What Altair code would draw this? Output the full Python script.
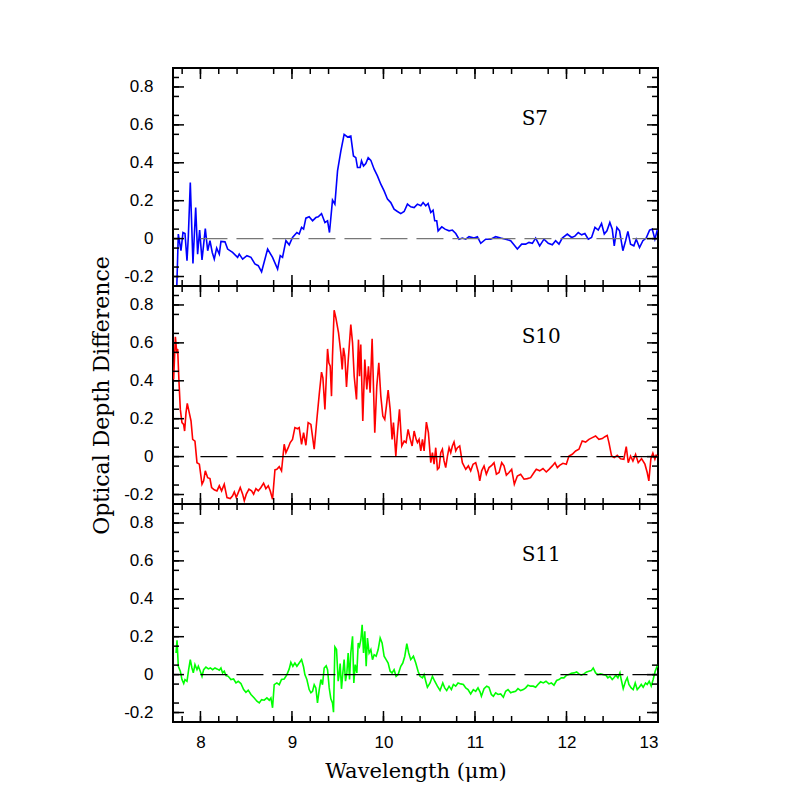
import altair as alt
import pandas as pd

# ---------------- data ----------------
S7_X = [7.740, 7.758, 7.787, 7.809, 7.831, 7.853, 7.867, 7.889, 7.918, 7.948,
        7.969, 7.991, 8.017, 8.053, 8.079, 8.104, 8.129, 8.151, 8.177, 8.206,
        8.224, 8.268, 8.297, 8.351, 8.406, 8.424, 8.461, 8.508, 8.552, 8.595,
        8.632, 8.668, 8.734, 8.788, 8.843, 8.872, 8.897, 8.934, 8.970, 9.006,
        9.054, 9.079, 9.105, 9.127, 9.152, 9.188, 9.225, 9.261, 9.287, 9.323,
        9.360, 9.389, 9.410, 9.443, 9.469, 9.498, 9.534, 9.570, 9.607, 9.643,
        9.672, 9.698, 9.716, 9.745, 9.760, 9.782, 9.807, 9.833, 9.862, 9.898,
        9.934, 9.971, 10.007, 10.044, 10.080, 10.116, 10.153, 10.189, 10.226, 10.262,
        10.298, 10.335, 10.371, 10.408, 10.433, 10.462, 10.488, 10.517, 10.542, 10.560,
        10.582, 10.597, 10.637, 10.673, 10.717, 10.753, 10.790, 10.826, 10.862, 10.899,
        10.935, 10.990, 11.026, 11.063, 11.117, 11.172, 11.226, 11.281, 11.335, 11.390,
        11.426, 11.463, 11.510, 11.554, 11.590, 11.627, 11.663, 11.707, 11.754, 11.801,
        11.845, 11.881, 11.918, 11.954, 12.009, 12.056, 12.092, 12.129, 12.165, 12.201,
        12.238, 12.274, 12.311, 12.347, 12.383, 12.413, 12.442, 12.474, 12.500, 12.522,
        12.551, 12.580, 12.616, 12.646, 12.671, 12.700, 12.736, 12.762, 12.798, 12.835,
        12.871, 12.908, 12.937, 12.966, 12.995]
S7_Y = [-0.280, 0.024, -0.064, 0.032, 0.027, -0.117, 0.006, 0.296, -0.131, 0.164,
        -0.082, 0.045, -0.113, 0.053, -0.064, -0.011, -0.073, -0.108, -0.050, -0.082,
        -0.015, -0.017, -0.055, -0.073, -0.099, -0.082, -0.108, -0.090, -0.099, -0.134,
        -0.143, -0.175, -0.055, -0.099, -0.161, -0.090, -0.099, -0.011, -0.033, 0.006,
        0.032, 0.024, 0.059, 0.050, 0.108, 0.115, 0.094, 0.111, 0.115, 0.132,
        0.085, 0.094, 0.032, 0.203, 0.182, 0.357, 0.462, 0.550, 0.536, 0.541,
        0.436, 0.427, 0.375, 0.375, 0.410, 0.383, 0.396, 0.427, 0.413, 0.366,
        0.331, 0.287, 0.252, 0.208, 0.190, 0.155, 0.143, 0.132, 0.143, 0.182,
        0.168, 0.164, 0.182, 0.173, 0.190, 0.173, 0.185, 0.138, 0.150, 0.094,
        0.094, 0.041, 0.062, 0.050, 0.041, 0.045, 0.027, -0.003, 0.003, -0.003,
        0.010, 0.003, 0.010, -0.025, -0.003, -0.003, 0.010, 0.003, -0.003, -0.011,
        -0.033, -0.055, -0.029, -0.029, -0.020, -0.025, 0.003, -0.038, -0.003, -0.025,
        -0.033, -0.011, -0.029, 0.003, 0.024, 0.006, 0.013, 0.032, 0.020, 0.027,
        -0.003, 0.006, 0.059, 0.045, 0.080, 0.024, 0.041, 0.085, 0.050, -0.038,
        0.059, 0.041, -0.064, -0.011, 0.038, -0.029, -0.038, -0.003, -0.047, -0.011,
        0.003, 0.045, 0.050, -0.003, 0.050]

S10_X = [7.707, 7.726, 7.740, 7.751, 7.766, 7.780, 7.798, 7.816, 7.827, 7.842,
         7.856, 7.878, 7.897, 7.915, 7.940, 7.962, 7.988, 8.017, 8.035, 8.053,
         8.079, 8.104, 8.122, 8.151, 8.180, 8.206, 8.231, 8.260, 8.290, 8.326,
         8.351, 8.370, 8.391, 8.413, 8.435, 8.461, 8.479, 8.501, 8.530, 8.559,
         8.581, 8.606, 8.632, 8.661, 8.690, 8.715, 8.741, 8.763, 8.788, 8.814,
         8.835, 8.861, 8.886, 8.915, 8.934, 8.959, 8.981, 9.006, 9.032, 9.061,
         9.079, 9.105, 9.127, 9.152, 9.177, 9.207, 9.243, 9.272, 9.298, 9.323,
         9.338, 9.360, 9.389, 9.403, 9.418, 9.432, 9.443, 9.461, 9.480, 9.509,
         9.534, 9.549, 9.563, 9.578, 9.596, 9.614, 9.643, 9.662, 9.680, 9.705,
         9.727, 9.738, 9.752, 9.774, 9.796, 9.818, 9.836, 9.854, 9.876, 9.905,
         9.927, 9.949, 9.971, 9.993, 10.014, 10.033, 10.051, 10.073, 10.094, 10.109,
         10.135, 10.153, 10.175, 10.200, 10.226, 10.247, 10.269, 10.291, 10.313, 10.335,
         10.357, 10.371, 10.389, 10.408, 10.426, 10.444, 10.469, 10.491, 10.517, 10.535,
         10.553, 10.571, 10.590, 10.608, 10.626, 10.644, 10.662, 10.680, 10.699, 10.717,
         10.735, 10.753, 10.771, 10.790, 10.808, 10.833, 10.862, 10.899, 10.928, 10.953,
         10.979, 11.008, 11.037, 11.052, 11.073, 11.099, 11.124, 11.153, 11.183, 11.208,
         11.234, 11.263, 11.292, 11.317, 11.343, 11.372, 11.401, 11.430, 11.463, 11.499,
         11.536, 11.572, 11.608, 11.645, 11.670, 11.707, 11.743, 11.779, 11.809, 11.845,
         11.874, 11.900, 11.925, 11.961, 11.998, 12.027, 12.063, 12.100, 12.136, 12.172,
         12.209, 12.245, 12.282, 12.318, 12.354, 12.391, 12.420, 12.445, 12.464, 12.493,
         12.522, 12.555, 12.591, 12.627, 12.653, 12.675, 12.700, 12.726, 12.755, 12.784,
         12.820, 12.857, 12.882, 12.900, 12.922, 12.944, 12.966, 12.980, 13.000]
S10_Y = [0.407, 0.632, 0.556, 0.568, 0.389, 0.249, 0.179, 0.170, 0.135, 0.231,
         0.281, 0.231, 0.188, 0.091, 0.082, -0.032, -0.040, -0.146, -0.128, -0.075,
         -0.111, -0.116, -0.163, -0.175, -0.181, -0.154, -0.181, -0.146, -0.216, -0.221,
         -0.207, -0.186, -0.216, -0.190, -0.163, -0.198, -0.233, -0.198, -0.172, -0.181,
         -0.198, -0.169, -0.181, -0.163, -0.140, -0.169, -0.154, -0.181, -0.225, -0.070,
         -0.067, -0.053, -0.075, 0.065, 0.021, 0.047, 0.074, 0.091, 0.153, 0.147,
         0.153, 0.065, 0.126, 0.060, 0.179, 0.170, 0.039, 0.196, 0.328, 0.446,
         0.416, 0.249, 0.568, 0.495, 0.477, 0.319, 0.530, 0.772, 0.732, 0.653,
         0.547, 0.460, 0.574, 0.530, 0.368, 0.503, 0.696, 0.600, 0.424, 0.302,
         0.617, 0.424, 0.591, 0.188, 0.512, 0.354, 0.477, 0.337, 0.621, 0.126,
         0.372, 0.495, 0.319, 0.214, 0.196, 0.270, 0.351, 0.249, 0.091, 0.179,
         0.003, 0.126, 0.249, 0.056, 0.082, 0.074, 0.144, 0.095, 0.056, 0.135,
         0.091, 0.074, 0.091, 0.030, 0.091, 0.030, 0.182, 0.126, -0.032, 0.021,
         -0.040, 0.047, -0.067, -0.058, 0.021, 0.039, -0.023, -0.058, 0.003, 0.047,
         0.021, 0.056, 0.077, 0.030, 0.047, 0.056, -0.032, -0.067, -0.049, -0.075,
         -0.040, -0.032, -0.084, -0.128, -0.075, -0.049, -0.093, -0.058, -0.046, -0.032,
         -0.093, -0.084, -0.032, -0.049, -0.098, -0.084, -0.067, -0.146, -0.102, -0.093,
         -0.119, -0.116, -0.111, -0.084, -0.067, -0.075, -0.063, -0.081, -0.067, -0.049,
         -0.032, -0.058, -0.046, -0.035, -0.040, 0.003, 0.012, 0.030, 0.039, 0.082,
         0.077, 0.091, 0.100, 0.109, 0.091, 0.095, 0.105, 0.112, 0.074, 0.003,
         -0.005, 0.007, -0.011, -0.014, 0.053, -0.032, 0.003, -0.023, 0.012, -0.032,
         -0.011, -0.040, -0.084, -0.128, -0.011, 0.018, -0.014, 0.007, 0.000]

S11_X = [7.733, 7.744, 7.758, 7.780, 7.798, 7.817, 7.831, 7.853, 7.871, 7.889,
         7.907, 7.922, 7.940, 7.962, 7.977, 7.998, 8.017, 8.035, 8.060, 8.086,
         8.108, 8.133, 8.159, 8.180, 8.206, 8.224, 8.242, 8.260, 8.279, 8.304,
         8.333, 8.362, 8.388, 8.413, 8.442, 8.472, 8.497, 8.522, 8.552, 8.588,
         8.617, 8.643, 8.668, 8.697, 8.726, 8.752, 8.770, 8.788, 8.806, 8.835,
         8.861, 8.886, 8.915, 8.945, 8.970, 8.988, 9.010, 9.032, 9.054, 9.079,
         9.105, 9.127, 9.141, 9.163, 9.188, 9.207, 9.225, 9.243, 9.261, 9.279,
         9.298, 9.316, 9.334, 9.352, 9.374, 9.389, 9.407, 9.425, 9.443, 9.454,
         9.469, 9.487, 9.505, 9.516, 9.527, 9.541, 9.556, 9.570, 9.585, 9.600,
         9.614, 9.629, 9.643, 9.662, 9.676, 9.691, 9.709, 9.724, 9.738, 9.753,
         9.767, 9.782, 9.796, 9.811, 9.825, 9.843, 9.862, 9.880, 9.898, 9.920,
         9.942, 9.964, 9.985, 10.007, 10.029, 10.051, 10.073, 10.094, 10.116, 10.138,
         10.160, 10.189, 10.211, 10.233, 10.255, 10.276, 10.298, 10.327, 10.353, 10.378,
         10.400, 10.426, 10.444, 10.462, 10.480, 10.509, 10.535, 10.560, 10.589, 10.618,
         10.648, 10.669, 10.691, 10.717, 10.742, 10.764, 10.789, 10.815, 10.844, 10.873,
         10.899, 10.924, 10.953, 10.982, 11.008, 11.033, 11.055, 11.070, 11.099, 11.128,
         11.153, 11.179, 11.201, 11.226, 11.252, 11.281, 11.310, 11.335, 11.361, 11.390,
         11.419, 11.444, 11.470, 11.499, 11.528, 11.554, 11.579, 11.608, 11.637, 11.663,
         11.688, 11.717, 11.746, 11.776, 11.808, 11.834, 11.863, 11.892, 11.918, 11.943,
         11.972, 12.001, 12.027, 12.052, 12.081, 12.111, 12.136, 12.161, 12.190, 12.220,
         12.245, 12.271, 12.292, 12.318, 12.343, 12.372, 12.402, 12.431, 12.452, 12.474,
         12.500, 12.518, 12.540, 12.562, 12.584, 12.598, 12.620, 12.645, 12.664, 12.682,
         12.707, 12.729, 12.751, 12.773, 12.795, 12.817, 12.838, 12.864, 12.882, 12.904,
         12.926, 12.947, 12.969, 12.998]
S11_Y = [0.114, 0.181, 0.044, 0.018, -0.026, -0.047, -0.026, -0.035, 0.026, 0.079,
         0.035, 0.009, 0.053, 0.026, 0.044, 0.018, -0.009, 0.026, 0.040, 0.030,
         0.035, 0.026, 0.035, 0.030, 0.023, 0.035, 0.009, 0.018, -0.005, -0.009,
         -0.026, -0.023, -0.044, -0.035, -0.047, -0.079, -0.093, -0.082, -0.105, -0.123,
         -0.140, -0.149, -0.132, -0.135, -0.123, -0.135, -0.123, -0.175, -0.053, -0.044,
         -0.053, -0.026, -0.023, 0.000, 0.030, 0.065, 0.044, 0.061, 0.044, 0.061,
         0.079, 0.040, 0.000, -0.026, -0.079, -0.096, -0.088, -0.053, -0.070, -0.149,
         -0.079, -0.026, -0.053, 0.035, 0.047, 0.026, -0.070, -0.128, -0.149, -0.198,
         0.146, 0.132, -0.035, 0.000, 0.058, -0.075, 0.009, 0.079, -0.035, 0.009,
         0.114, -0.026, 0.114, 0.202, -0.044, 0.053, 0.009, 0.167, 0.149, 0.184,
         0.263, 0.114, 0.228, 0.044, 0.193, 0.114, 0.132, 0.079, 0.105, 0.097,
         0.132, 0.193, 0.167, 0.097, 0.079, 0.061, 0.018, 0.009, 0.026, -0.009,
         0.000, 0.044, 0.061, 0.097, 0.163, 0.114, 0.079, 0.097, 0.061, 0.018,
         -0.009, -0.017, 0.000, -0.035, -0.067, -0.044, -0.009, -0.035, -0.061, -0.084,
         -0.044, -0.070, -0.084, -0.061, -0.079, -0.052, -0.061, -0.044, -0.049, -0.052,
         -0.070, -0.079, -0.102, -0.079, -0.088, -0.070, -0.091, -0.114, -0.074, -0.061,
         -0.067, -0.105, -0.114, -0.096, -0.105, -0.102, -0.119, -0.088, -0.079, -0.096,
         -0.091, -0.088, -0.074, -0.084, -0.079, -0.070, -0.056, -0.061, -0.061, -0.067,
         -0.052, -0.038, -0.044, -0.035, -0.049, -0.044, -0.056, -0.031, -0.026, -0.017,
         -0.017, -0.003, 0.000, 0.007, 0.009, 0.014, 0.004, -0.003, 0.004, 0.014,
         0.018, 0.021, 0.035, 0.009, 0.000, 0.004, 0.000, -0.003, -0.017, -0.009,
         -0.026, -0.017, -0.003, -0.017, 0.009, -0.026, -0.074, -0.035, -0.017, -0.052,
         -0.070, -0.079, -0.044, -0.079, -0.067, -0.052, -0.067, -0.044, -0.052, -0.035,
         -0.061, -0.026, 0.018, 0.053]

SAMPLES = ["S7", "S10", "S11"]
LINE_COLORS = ["#0000ff", "#ff0000", "#00ff00"]
ZERO_COLORS = ["#777777", "#000000", "#000000"]

X_DOMAIN = [7.7, 13.0]
Y_DOMAIN = [-0.25, 0.9]
X_MAJOR = [8, 9, 10, 11, 12, 13]
X_MINOR = [round(7.8 + 0.2 * i, 1) for i in range(26) if (i + 1) % 5 != 0]
Y_MAJOR = [-0.2, 0.0, 0.2, 0.4, 0.6, 0.8]
Y_MINOR = [round(-0.25 + 0.05 * i, 2) for i in range(23) if (i + 1) % 4 != 0]
ZERO_LINE = {"x0": [8.0], "x1": [13.0], "y0": [0.0]}
LABEL_AT = {"x": [11.51], "y": [0.60]}

# ---------------- layout / style ----------------
W, H = 485, 218
MAJ, MIN = 11, 6
LABEL_FONT = "Liberation Sans"
TITLE_FONT = "DejaVu Serif"
X_TITLE = "Wavelength (\u03bcm)"
Y_TITLE = "Optical Depth Difference"

xs = alt.Scale(domain=X_DOMAIN, nice=False, zero=False)
ys = alt.Scale(domain=Y_DOMAIN, nice=False, zero=False)

Y_LABEL_EXPR = ("datum.value == 0 ? '0' : (datum.value < 0 ? '-' + format(-datum.value, '.1f')"
                " : format(datum.value, '.1f'))")


def make_axes(i):
    last = i == 2
    if last:
        xaxis = alt.Axis(values=X_MAJOR, format="d", ticks=False, domain=False, grid=False,
                         labelFont=LABEL_FONT, labelFontSize=17, labelColor="black",
                         labelPadding=12, titleFont=TITLE_FONT, titleFontSize=21,
                         titleFontWeight="normal", titleColor="black", titlePadding=10)
    else:
        xaxis = None
    yaxis = alt.Axis(values=Y_MAJOR, ticks=False, domain=False, grid=False,
                     labelExpr=Y_LABEL_EXPR,
                     labelFont=LABEL_FONT, labelFontSize=17, labelColor="black",
                     labelPadding=20, titleFont=TITLE_FONT, titleFontSize=22,
                     titleFontWeight="normal", titleColor="black", titlePadding=10)
    xtitle = X_TITLE if last else None
    ytitle = Y_TITLE if i == 1 else None

    def X(f):
        return alt.X(f, scale=xs, axis=xaxis, title=xtitle)

    def Y(f):
        return alt.Y(f, scale=ys, axis=yaxis, title=ytitle)
    return X, Y


def panel(i, xv, yv):
    X, Y = make_axes(i)
    df = pd.DataFrame({"x": xv, "y": yv})
    line = alt.Chart(df).mark_line(color=LINE_COLORS[i], strokeWidth=1.6, clip=True).encode(
        x=X("x:Q"), y=Y("y:Q"))
    zero = alt.Chart(pd.DataFrame(ZERO_LINE)).mark_rule(
        color=ZERO_COLORS[i], strokeWidth=1.3, strokeDash=[27, 9]).encode(
        x=X("x0:Q"), x2="x1:Q", y=Y("y0:Q"))
    lab = alt.Chart(pd.DataFrame({**LABEL_AT, "t": [SAMPLES[i]]})).mark_text(
        font="DejaVu Serif", fontSize=20, color="black", align="left",
        baseline="alphabetic").encode(x=X("x:Q"), y=Y("y:Q"), text="t:N")
    ticks = []
    for vals, ln in ((X_MAJOR, MAJ), (X_MINOR, MIN)):
        base = alt.Chart(pd.DataFrame({"v": vals})).mark_rule(color="black", strokeWidth=1.5)
        ticks.append(base.encode(x=X("v:Q"), y=alt.value(H), y2=alt.value(H - ln)))
        ticks.append(base.encode(x=X("v:Q"), y=alt.value(0), y2=alt.value(ln)))
    for vals, ln in ((Y_MAJOR, MAJ), (Y_MINOR, MIN)):
        base = alt.Chart(pd.DataFrame({"v": vals})).mark_rule(color="black", strokeWidth=1.5)
        ticks.append(base.encode(y=Y("v:Q"), x=alt.value(0), x2=alt.value(ln)))
        ticks.append(base.encode(y=Y("v:Q"), x=alt.value(W), x2=alt.value(W - ln)))
    return alt.layer(line, zero, *ticks, lab).properties(width=W, height=H)


chart = alt.vconcat(
    panel(0, S7_X, S7_Y), panel(1, S10_X, S10_Y), panel(2, S11_X, S11_Y),
    spacing=0, bounds="flush",
    padding={"left": 81, "top": 58, "right": 10, "bottom": 0},
).configure_view(stroke="black", strokeWidth=2)

chart.save("out.html", embed_options={"renderer": "svg", "actions": False})
